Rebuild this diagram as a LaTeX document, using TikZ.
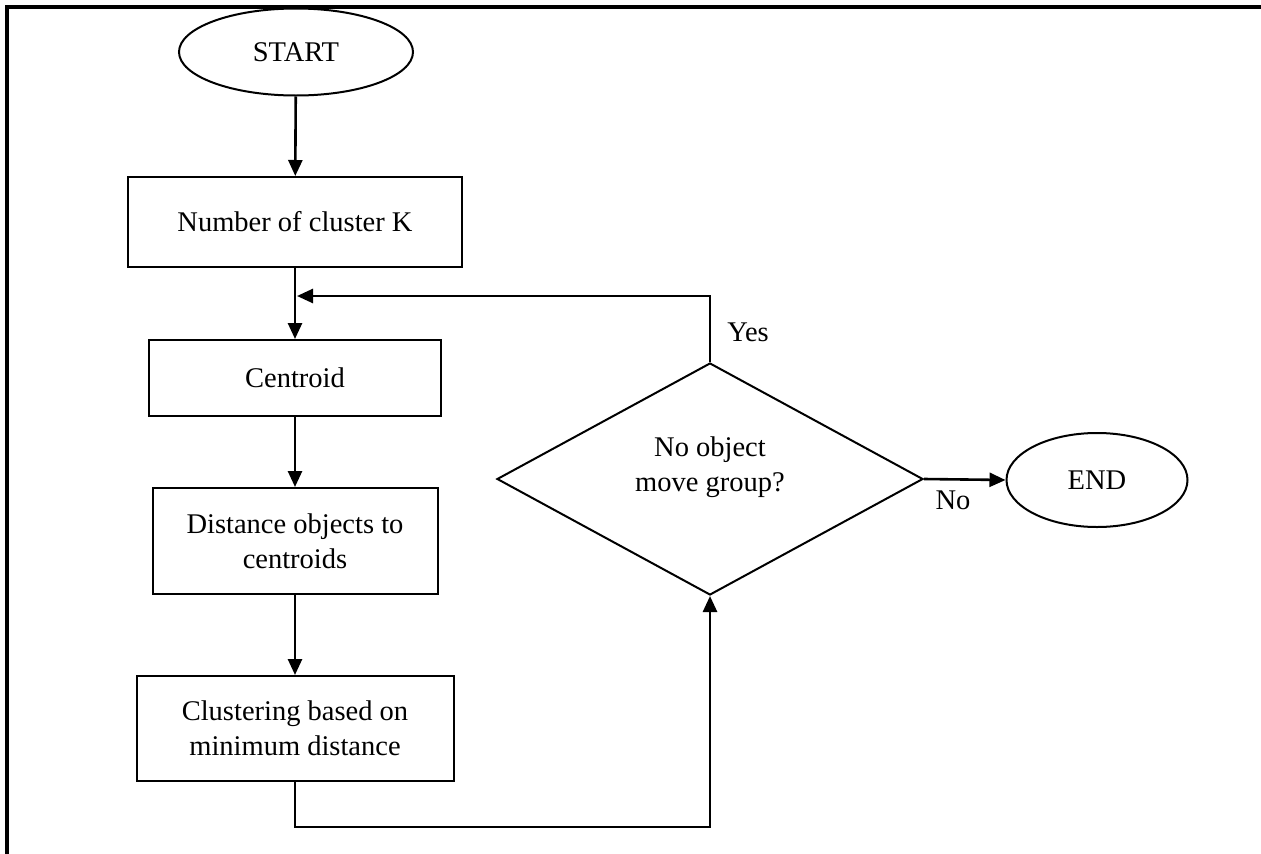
\documentclass[tikz,border=0pt]{standalone}
\usepackage{fontspec}
\setmainfont{Liberation Serif}
\usetikzlibrary{shapes.geometric,arrows.meta}
\begin{document}
\begin{tikzpicture}[x=1pt,y=-1pt,
  every node/.style={font=\fontsize{28.5}{35}\selectfont},
  procbox/.style={draw,line width=2pt,rectangle,inner sep=0pt,align=center},
  termin/.style={draw,line width=2pt,ellipse,inner sep=0pt},
  decis/.style={draw,line width=2pt,diamond,inner sep=0pt},
  txt/.style={align=center,inner sep=0pt},
  flow/.style={line width=2.6pt,-{Triangle[length=16pt,width=14pt]}}]
\useasboundingbox (0,0) rectangle (1261,854);
\draw[line width=3.5pt] (7,854) -- (7,7) -- (1261,7);
\node[termin,minimum width=234pt,minimum height=87pt] (start) at (296,52) {START};
\node[procbox,minimum width=334pt,minimum height=90pt] (k) at (295,222) {Number of cluster K};
\node[procbox,minimum width=292pt,minimum height=76pt] (cen) at (295,378) {Centroid};
\node[procbox,minimum width=285pt,minimum height=106pt] (dist) at (295,541) {Distance objects to\\centroids};
\node[procbox,minimum width=317pt,minimum height=105pt] (clu) at (295,728.5) {Clustering based on\\minimum distance};
\node[decis,minimum width=426pt,minimum height=232pt] (dec) at (710,479) {};
\node[txt] (dectext) at ([yshift=12pt]dec.center) {No object\\move group?};
\node[termin,minimum width=181pt,minimum height=94pt] (end) at (1097,480) {END};
\node (yes) at (748,332) {Yes};
\node (no) at (953,500) {No};
\coordinate (top) at (710,296);
\coordinate (join) at (297,296);
\coordinate (b1) at (295,827);
\coordinate (b2) at (710,827);
\draw[flow] (start) -- (k);
\draw[flow] (k) -- (cen);
\draw[flow] (cen) -- (dist);
\draw[flow] (dist) -- (clu);
\draw[flow] (dec.north) -- (top) -- (join);
\draw[flow] (clu.south) -- (b1) -- (b2) -- (dec.south);
\draw[flow] (dec.east) -- (end.west);
\end{tikzpicture}
\end{document}
